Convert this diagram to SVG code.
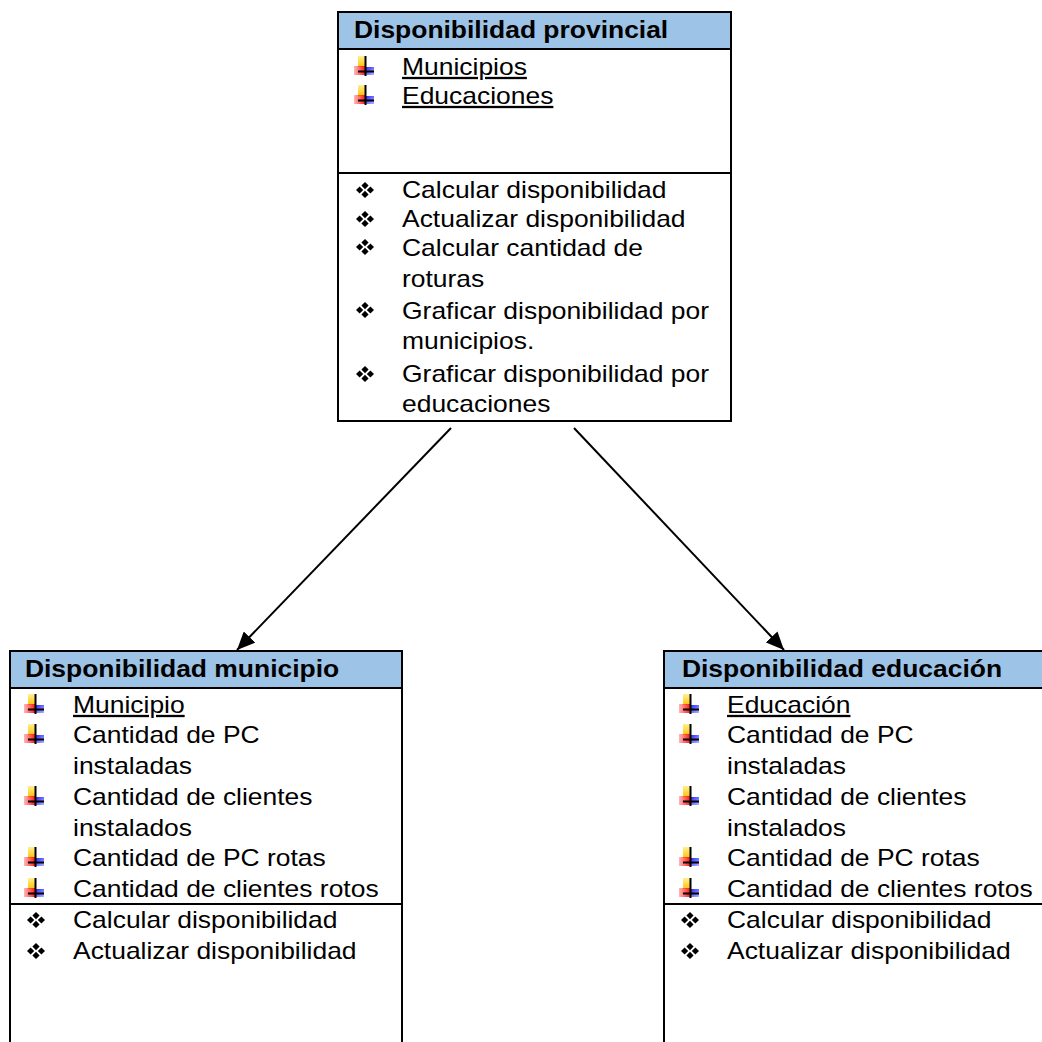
<svg xmlns="http://www.w3.org/2000/svg" xmlns:xlink="http://www.w3.org/1999/xlink" width="1042" height="1042" viewBox="0 0 1042 1042">
  <style>
    .box { fill: #ffffff; stroke: #000000; stroke-width: 2; }
    .head { fill: #9dc3e6; stroke: #000000; stroke-width: 2; }
    .sep { stroke: #000000; stroke-width: 2; }
    .t { font-family: "Liberation Sans", Arial, sans-serif; font-size: 23px; fill: #000000; }
    .h { font-weight: bold; }
    .u { text-decoration: underline; }
    .edge { stroke: #000000; stroke-width: 2; fill: none; }
  </style>
  <defs>
    <linearGradient id="gy" x1="0" y1="0" x2="0" y2="1">
      <stop offset="0" stop-color="#ffe860" stop-opacity="0.7"/>
      <stop offset="1" stop-color="#ffc000"/>
    </linearGradient>
    <linearGradient id="gr" x1="0" y1="0" x2="1" y2="0">
      <stop offset="0" stop-color="#ff3030" stop-opacity="0.35"/>
      <stop offset="1" stop-color="#ff1a1a"/>
    </linearGradient>
    <linearGradient id="gb" x1="0" y1="0" x2="1" y2="1">
      <stop offset="0" stop-color="#1a1aff"/>
      <stop offset="1" stop-color="#5050ff" stop-opacity="0.45"/>
    </linearGradient>
    <!-- attribute bullet: coloured cross -->
    <symbol id="plus" viewBox="0 0 20 20">
      <rect x="4" y="0" width="8" height="11" fill="url(#gy)"/>
      <rect x="0" y="10" width="11" height="9" fill="url(#gr)"/>
      <rect x="11" y="11" width="9" height="8" fill="url(#gb)"/>
      <line x1="11.5" y1="0" x2="11.5" y2="20" stroke="#000" stroke-width="2"/>
      <line x1="4" y1="15.5" x2="20" y2="15.5" stroke="#000" stroke-width="2"/>
    </symbol>
    <!-- operation bullet: four diamonds -->
    <symbol id="dia" viewBox="0 0 18 16">
      <path d="M9 0 L12.6 3.6 L9 7.2 L5.4 3.6 Z M3.6 4.4 L7.2 8 L3.6 11.6 L0 8 Z M14.4 4.4 L18 8 L14.4 11.6 L10.8 8 Z M9 8.8 L12.6 12.4 L9 16 L5.4 12.4 Z" fill="#000"/>
    </symbol>
    <marker id="arrow" markerUnits="userSpaceOnUse" markerWidth="20" markerHeight="16" refX="18" refY="8" orient="auto">
      <path d="M0 0 L18 8 L0 16 Z" fill="#000"/>
    </marker>
  </defs>

  <!-- connectors -->
  <g id="connectors">
    <line class="edge" x1="451" y1="428" x2="237" y2="650" marker-end="url(#arrow)"/>
    <line class="edge" x1="574" y1="428" x2="784" y2="650" marker-end="url(#arrow)"/>
  </g>

  <!-- Disponibilidad provincial -->
  <g id="node-provincial">
    <rect class="box" x="338" y="12" width="393" height="409"/>
    <rect class="head" x="338" y="12" width="393" height="37"/>
    <line class="sep" x1="338" y1="173" x2="731" y2="173"/>
    <use href="#plus" x="354" y="56" width="20" height="20"/>
    <use href="#plus" x="354" y="85" width="20" height="20"/>
    <use href="#dia" x="356" y="182" width="18" height="16"/>
    <use href="#dia" x="356" y="211" width="18" height="16"/>
    <use href="#dia" x="356" y="239" width="18" height="16"/>
    <use href="#dia" x="356" y="302" width="18" height="16"/>
    <use href="#dia" x="356" y="366" width="18" height="16"/>
    <g transform="scale(1.15 1)">
      <text class="t h" x="307.8" y="38">Disponibilidad provincial</text>
      <text class="t u" x="349.6" y="75">Municipios</text>
      <text class="t u" x="349.6" y="104">Educaciones</text>
      <text class="t" x="349.6" y="198">Calcular disponibilidad</text>
      <text class="t" x="349.6" y="227">Actualizar disponibilidad</text>
      <text class="t" x="349.6" y="256">Calcular cantidad de</text>
      <text class="t" x="349.6" y="287">roturas</text>
      <text class="t" x="349.6" y="319">Graficar disponibilidad por</text>
      <text class="t" x="349.6" y="349">municipios.</text>
      <text class="t" x="349.6" y="382">Graficar disponibilidad por</text>
      <text class="t" x="349.6" y="412">educaciones</text>
    </g>
  </g>

  <!-- Disponibilidad municipio -->
  <g id="node-municipio">
    <rect class="box" x="10" y="651" width="392" height="420"/>
    <rect class="head" x="10" y="651" width="392" height="37"/>
    <line class="sep" x1="10" y1="904" x2="402" y2="904"/>
    <use href="#plus" x="24" y="694" width="20" height="20"/>
    <use href="#plus" x="24" y="724" width="20" height="20"/>
    <use href="#plus" x="24" y="786" width="20" height="20"/>
    <use href="#plus" x="24" y="847" width="20" height="20"/>
    <use href="#plus" x="24" y="878" width="20" height="20"/>
    <use href="#dia" x="27" y="912" width="18" height="16"/>
    <use href="#dia" x="27" y="943" width="18" height="16"/>
    <g transform="scale(1.15 1)">
      <text class="t h" x="21.7" y="677">Disponibilidad municipio</text>
      <text class="t u" x="63.5" y="713">Municipio</text>
      <text class="t" x="63.5" y="743">Cantidad de PC</text>
      <text class="t" x="63.5" y="774">instaladas</text>
      <text class="t" x="63.5" y="805">Cantidad de clientes</text>
      <text class="t" x="63.5" y="836">instalados</text>
      <text class="t" x="63.5" y="866">Cantidad de PC rotas</text>
      <text class="t" x="63.5" y="897">Cantidad de clientes rotos</text>
      <text class="t" x="63.5" y="928">Calcular disponibilidad</text>
      <text class="t" x="63.5" y="959">Actualizar disponibilidad</text>
    </g>
  </g>

  <!-- Disponibilidad educación -->
  <g id="node-educacion">
    <rect class="box" x="664" y="651" width="400" height="420"/>
    <rect class="head" x="664" y="651" width="400" height="37"/>
    <line class="sep" x1="664" y1="904" x2="1064" y2="904"/>
    <use href="#plus" x="679" y="694" width="20" height="20"/>
    <use href="#plus" x="679" y="724" width="20" height="20"/>
    <use href="#plus" x="679" y="786" width="20" height="20"/>
    <use href="#plus" x="679" y="847" width="20" height="20"/>
    <use href="#plus" x="679" y="878" width="20" height="20"/>
    <use href="#dia" x="681" y="912" width="18" height="16"/>
    <use href="#dia" x="681" y="943" width="18" height="16"/>
    <g transform="scale(1.15 1)">
      <text class="t h" x="593" y="677">Disponibilidad educación</text>
      <text class="t u" x="632.2" y="713">Educación</text>
      <text class="t" x="632.2" y="743">Cantidad de PC</text>
      <text class="t" x="632.2" y="774">instaladas</text>
      <text class="t" x="632.2" y="805">Cantidad de clientes</text>
      <text class="t" x="632.2" y="836">instalados</text>
      <text class="t" x="632.2" y="866">Cantidad de PC rotas</text>
      <text class="t" x="632.2" y="897">Cantidad de clientes rotos</text>
      <text class="t" x="632.2" y="928">Calcular disponibilidad</text>
      <text class="t" x="632.2" y="959">Actualizar disponibilidad</text>
    </g>
  </g>
</svg>
